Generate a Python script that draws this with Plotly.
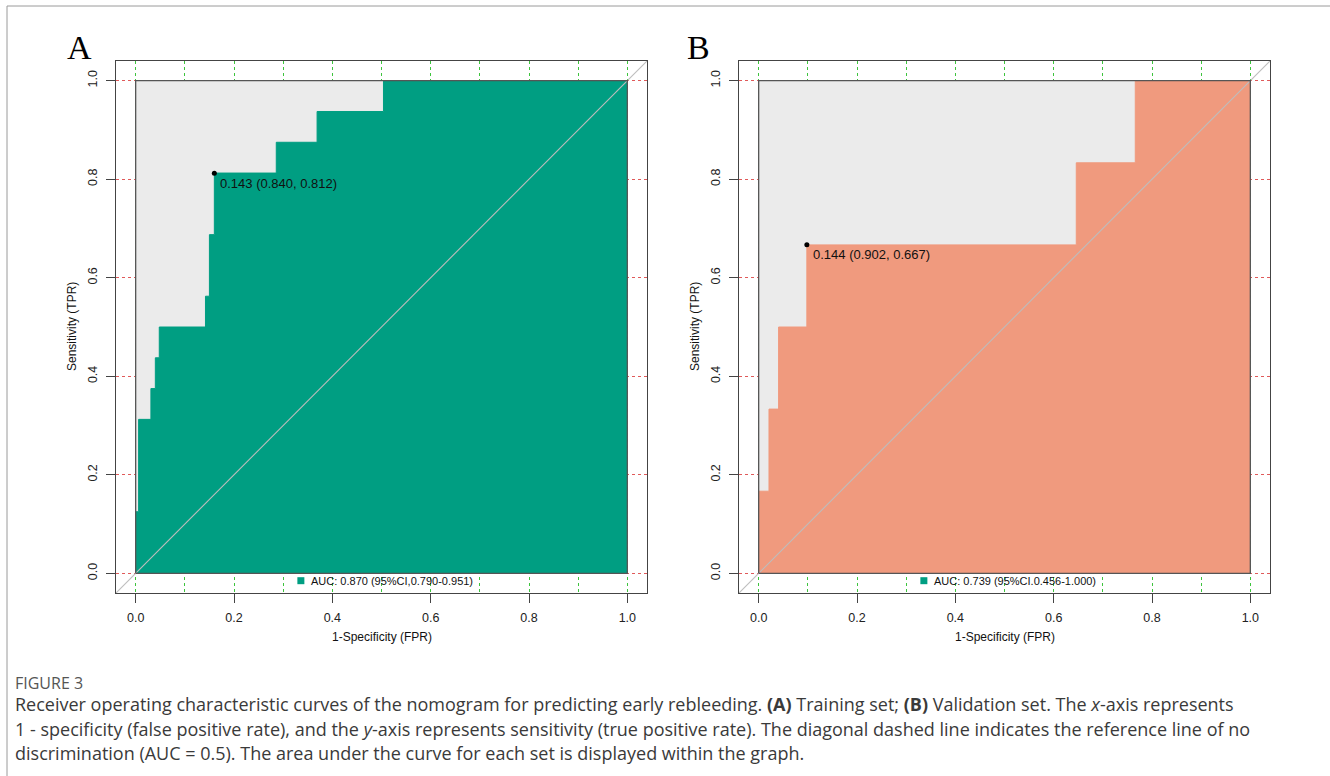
import plotly.graph_objects as go

# ---------------- data ----------------
# ROC step vertices (FPR, TPR); each step goes up first, then right
fpr_train = [0.0, 0.006, 0.031, 0.040, 0.048, 0.142, 0.150, 0.160, 0.286, 0.369, 0.504, 1.0]
tpr_train = [0.0, 0.125, 0.3125, 0.375, 0.4375, 0.5, 0.5625, 0.6875, 0.8125, 0.875, 0.9375, 1.0]
best_train = (0.160, 0.812)     # (1 - specificity, sensitivity) at best threshold
best_train_label = "0.143 (0.840, 0.812)"
auc_train_label = "AUC: 0.870 (95%CI,0.790-0.951)"

fpr_valid = [0.0, 0.021, 0.0405, 0.098, 0.646, 0.766, 1.0]
tpr_valid = [0.0, 1 / 6, 1 / 3, 0.5, 2 / 3, 5 / 6, 1.0]
best_valid = (0.098, 0.667)
best_valid_label = "0.144 (0.902, 0.667)"
auc_valid_label = "AUC: 0.739 (95%CI.0.456-1.000)"

x_ticks = [0.0, 0.2, 0.4, 0.6, 0.8, 1.0]
y_ticks = [0.0, 0.2, 0.4, 0.6, 0.8, 1.0]
tick_text = ["0.0", "0.2", "0.4", "0.6", "0.8", "1.0"]

# ---------------- styling ----------------
W, H = 1330, 776
TEAL = "#009E82"
SALMON = "#F09A7E"
PANEL_BG = "#EBEBEB"
FRAME = "#444444"
FONT = "Liberation Sans, Arial, sans-serif"
RNG = [-0.04, 1.04]


def px(x):
    return x / W


def py(y):
    return 1 - y / H


fig = go.Figure()

panels = [
    dict(xa="x", ya="y", fpr=fpr_train, tpr=tpr_train, color=TEAL,
         best=best_train, bl=best_train_label, al=auc_train_label,
         dom=[px(116), px(647)], letter="A", lx=79),
    dict(xa="x2", ya="y2", fpr=fpr_valid, tpr=tpr_valid, color=SALMON,
         best=best_valid, bl=best_valid_label, al=auc_valid_label,
         dom=[px(739), px(1270)], letter="B", lx=698),
]

ydom = [py(593), py(61)]

for i, p in enumerate(panels):
    xa, ya = p["xa"], p["ya"]
    # grey background square of the unit region
    fig.add_trace(go.Scatter(x=[0, 1, 1, 0, 0], y=[0, 0, 1, 1, 0], mode="lines",
                             fill="toself", fillcolor=PANEL_BG, line=dict(width=0),
                             hoverinfo="skip", showlegend=False, xaxis=xa, yaxis=ya))
    # ROC area
    fig.add_trace(go.Scatter(x=p["fpr"], y=p["tpr"], mode="lines", line_shape="vh",
                             fill="tozeroy", fillcolor=p["color"],
                             line=dict(color=p["color"], width=1),
                             showlegend=False, xaxis=xa, yaxis=ya))
    # diagonal reference line
    fig.add_trace(go.Scatter(x=RNG, y=RNG, mode="lines",
                             line=dict(color="#BDBDBD", width=1.1),
                             hoverinfo="skip", showlegend=False, xaxis=xa, yaxis=ya))
    # unit square outline
    fig.add_trace(go.Scatter(x=[0, 1, 1, 0, 0], y=[0, 0, 1, 1, 0], mode="lines",
                             line=dict(color="#555555", width=1.3),
                             hoverinfo="skip", showlegend=False, xaxis=xa, yaxis=ya))
    # best threshold point
    bx, by = p["best"]
    fig.add_trace(go.Scatter(x=[bx], y=[by], mode="markers",
                             marker=dict(color="black", size=5),
                             showlegend=False, xaxis=xa, yaxis=ya))
    fig.add_annotation(x=bx, y=by, xref=xa, yref=ya, text=p["bl"], showarrow=False,
                       xanchor="left", yanchor="middle", xshift=4, yshift=-10,
                       font=dict(family=FONT, size=13, color="#111111"))
    # legend (teal square in both panels, as in the original)
    fig.add_trace(go.Scatter(x=[0.336], y=[-0.015], mode="markers",
                             marker=dict(symbol="square", color=TEAL, size=7),
                             hoverinfo="skip", showlegend=False, xaxis=xa, yaxis=ya))
    fig.add_annotation(x=0.352, y=-0.015, xref=xa, yref=ya, text=p["al"], showarrow=False,
                       xanchor="left", yanchor="middle",
                       font=dict(family=FONT, size=11, color="#111111"))
    # axis titles
    fig.add_annotation(x=0.5, y=py(637), xref=xa, yref="paper", text="1-Specificity (FPR)",
                       showarrow=False, xanchor="center", yanchor="middle",
                       font=dict(family=FONT, size=12, color="#111111"))
    fig.add_annotation(x=px(p["dom"][0] * W - 44), y=0.5, xref="paper", yref=ya,
                       text="Sensitivity (TPR)", textangle=-90, showarrow=False,
                       xanchor="center", yanchor="middle",
                       font=dict(family=FONT, size=12, color="#111111"))
    # panel letter
    fig.add_annotation(x=px(p["lx"]), y=py(47), xref="paper", yref="paper", text=p["letter"],
                       showarrow=False, xanchor="center", yanchor="middle",
                       font=dict(family="Liberation Serif, Times New Roman, serif", size=34,
                                 color="#000000"))

    axis_common = dict(range=RNG, showline=True, mirror=True, linecolor=FRAME, linewidth=1,
                       ticks="outside", ticklen=9, tickcolor=FRAME, tickwidth=1,
                       tickfont=dict(family=FONT, size=12.5, color="#222222"),
                       zeroline=False, fixedrange=True, ticklabelstandoff=4)
    xkey = "xaxis" if i == 0 else "xaxis2"
    ykey = "yaxis" if i == 0 else "yaxis2"
    fig.layout[xkey] = dict(axis_common, domain=p["dom"], anchor=ya,
                            tickvals=x_ticks, ticktext=tick_text,
                            showgrid=True, gridcolor="#3DC43D", griddash="dot", gridwidth=1,
                            minor=dict(tick0=0, dtick=0.1, showgrid=True, gridcolor="#3DC43D",
                                       griddash="dot", gridwidth=1, ticks=""))
    fig.layout[ykey] = dict(axis_common, domain=ydom, anchor=xa,
                            tickvals=y_ticks, ticktext=tick_text, tickangle=-90,
                            showgrid=True, gridcolor="#E05A5A", griddash="dot", gridwidth=1)

# caption
fig.add_annotation(x=px(13), y=py(683), xref="paper", yref="paper", text="FIGURE 3",
                   showarrow=False, xanchor="left", yanchor="middle",
                   font=dict(family="Open Sans, sans-serif", size=16, color="#555555"))
caption_lines = [
    "Receiver operating characteristic curves of the nomogram for predicting early rebleeding. "
    "<b>(A)</b> Training set; <b>(B)</b> Validation set. The <i>x</i>-axis represents",
    "1 - specificity (false positive rate), and the <i>y</i>-axis represents sensitivity "
    "(true positive rate). The diagonal dashed line indicates the reference line of no",
    "discrimination (AUC = 0.5). The area under the curve for each set is displayed within the graph.",
]
for k, line in enumerate(caption_lines):
    fig.add_annotation(x=px(13), y=py(704 + 24.5 * k), xref="paper", yref="paper", text=line,
                       showarrow=False, xanchor="left", yanchor="middle",
                       font=dict(family="Open Sans, sans-serif", size=18, color="#3A3A3A"))

# page frame lines
fig.add_shape(type="line", xref="paper", yref="paper", x0=px(7), x1=1, y0=py(6), y1=py(6),
              line=dict(color="#9A9A9A", width=1))
fig.add_shape(type="line", xref="paper", yref="paper", x0=px(7), x1=px(7), y0=py(6), y1=0,
              line=dict(color="#9A9A9A", width=1))

fig.update_layout(width=W, height=H, margin=dict(l=0, r=0, t=0, b=0),
                  paper_bgcolor="white", plot_bgcolor="white", showlegend=False)

fig.write_html("out.html", config={"displayModeBar": False},
               post_script="document.body.style.margin='0';document.body.style.padding='0';")
